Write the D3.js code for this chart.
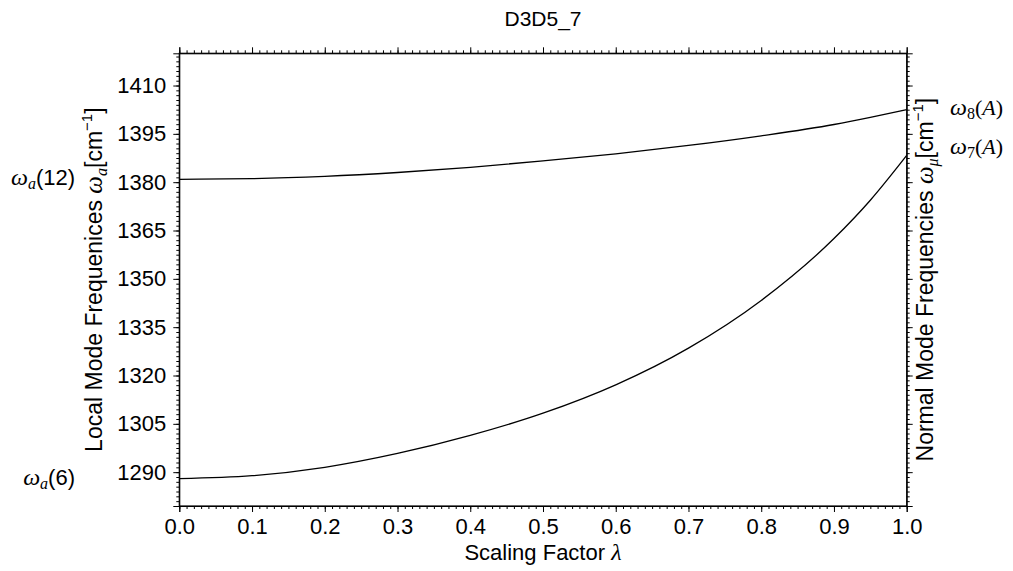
<!DOCTYPE html>
<html>
<head>
<meta charset="utf-8">
<script src="https://cdn.jsdelivr.net/npm/d3@7"></script>
<style>
  body { margin: 0; background: #fff; }
  svg { display: block; }
  text { font-family: "Liberation Sans", Arial, sans-serif; fill: #000; }
  .math { font-family: "Liberation Serif", "DejaVu Serif", serif; font-style: italic; }
  .axis path, .axis line { stroke: #000; }
</style>
</head>
<body>
<div class="container"></div>
<script>
// scaling factor lambda
const lambdas = [0.0, 0.1, 0.2, 0.3, 0.4, 0.5, 0.6, 0.7, 0.8, 0.9, 0.95, 1.0];
// omega_a(12) -> omega_8(A)
const upperMode = [1380.9, 1381.1, 1381.8, 1383.0, 1384.6, 1386.6, 1388.8, 1391.4, 1394.4, 1397.9, 1400.1, 1402.5];
// omega_a(6) -> omega_7(A)
const lowerMode = [1288.0, 1288.9, 1291.5, 1295.8, 1301.4, 1308.3, 1317.1, 1328.5, 1343.3, 1362.5, 1374.4, 1388.3];
const xTicks = [0.0, 0.1, 0.2, 0.3, 0.4, 0.5, 0.6, 0.7, 0.8, 0.9, 1.0];
const yTicks = [1290, 1305, 1320, 1335, 1350, 1365, 1380, 1395, 1410];

const W = 1013, H = 571;
const margin = { top: 53.3, right: 106.3, bottom: 65, left: 179.3 };
const w = W - margin.left - margin.right,
  h = H - margin.top - margin.bottom;

const svg = d3
  .select(".container")
  .append("svg")
  .attr("width", W)
  .attr("height", H);

const g = svg.append("g").attr("transform", `translate(${margin.left},${margin.top})`);

const xScale = d3.scaleLinear().domain([0, 1]).range([0, w]);
const yScale = d3.scaleLinear().domain([1279.5, 1420]).range([h, 0]);

const xMinor = d3.range(0, 1.0001, 0.01);
const yMinor = d3.range(1281, 1420, 1.5);

//Minor ticks on all four sides
const minor = [
  [d3.axisBottom(xScale).tickValues(xMinor), `translate(0,${h})`],
  [d3.axisTop(xScale).tickValues(xMinor), null],
  [d3.axisLeft(yScale).tickValues(yMinor), null],
  [d3.axisRight(yScale).tickValues(yMinor), `translate(${w},0)`]
];
minor.forEach(([ax, tr]) => {
  const a = g.append("g").attr("class", "axis").call(ax.tickSize(3).tickFormat(""));
  if (tr) a.attr("transform", tr);
  a.select(".domain").remove();
});

//Major ticks
g.append("g")
  .attr("class", "axis")
  .attr("transform", `translate(0,${h})`)
  .call(d3.axisBottom(xScale).tickValues(xTicks).tickFormat(d3.format(".1f")).tickSize(6).tickPadding(6))
  .call(s => s.selectAll("text").style("font-size", "22px"));
g.append("g")
  .attr("class", "axis")
  .call(d3.axisTop(xScale).tickValues(xTicks).tickFormat("").tickSize(6));
g.append("g")
  .attr("class", "axis")
  .call(d3.axisLeft(yScale).tickValues(yTicks).tickFormat(d3.format("d")).tickSize(6).tickPadding(7))
  .call(s => s.selectAll("text").style("font-size", "22px"));
g.append("g")
  .attr("class", "axis")
  .attr("transform", `translate(${w},0)`)
  .call(d3.axisRight(yScale).tickValues(yTicks).tickFormat("").tickSize(6));

//Frame
g.append("rect")
  .attr("width", w)
  .attr("height", h)
  .attr("fill", "none")
  .attr("stroke", "#000")
  .attr("stroke-width", 1.2);

//Curves
const line = d3
  .line()
  .x(d => xScale(d[0]))
  .y(d => yScale(d[1]))
  .curve(d3.curveMonotoneX);
[upperMode, lowerMode].forEach(vals => {
  g.append("path")
    .datum(lambdas.map((l, i) => [l, vals[i]]))
    .attr("d", line)
    .attr("fill", "none")
    .attr("stroke", "#000")
    .attr("stroke-width", 1.3);
});

//Title
svg.append("text")
  .attr("x", margin.left + w / 2)
  .attr("y", 26)
  .attr("text-anchor", "middle")
  .style("font-size", "21px")
  .text("D3D5_7");

//X label
const xl = svg.append("text")
  .attr("x", margin.left + w / 2)
  .attr("y", 560)
  .attr("text-anchor", "middle")
  .style("font-size", "22px");
xl.append("tspan").text("Scaling Factor ");
xl.append("tspan").attr("class", "math").style("font-size", "24px").text("λ");

//Y labels (left and right)
function yLabel(x, words, sub) {
  const t = svg.append("text")
    .attr("transform", `translate(${x},${margin.top + h / 2}) rotate(-90)`)
    .attr("text-anchor", "middle")
    .style("font-size", "23px");
  t.append("tspan").text(words + " ");
  t.append("tspan").attr("class", "math").style("font-size", "25px").text("ω");
  t.append("tspan").attr("class", "math").attr("dy", 5).style("font-size", "16px").text(sub);
  t.append("tspan").attr("dy", -5).text("[cm");
  t.append("tspan").attr("dy", -10).style("font-size", "15px").text("−1");
  t.append("tspan").attr("dy", 10).text("]");
}
yLabel(102, "Local Mode Frequenices", "a");
yLabel(933, "Normal Mode Frequencies", "μ");

//End labels
function leftLabel(val, num) {
  const t = svg.append("text")
    .attr("x", 75)
    .attr("y", margin.top + yScale(val) + 6)
    .attr("text-anchor", "end")
    .style("font-size", "22px");
  t.append("tspan").attr("class", "math").style("font-size", "24px").text("ω");
  t.append("tspan").attr("class", "math").attr("dy", 4).style("font-size", "16px").text("a");
  t.append("tspan").attr("dy", -4).text(`(${num})`);
}
leftLabel(upperMode[0], 12);
leftLabel(lowerMode[0], 6);

function rightLabel(val, num, dy) {
  const t = svg.append("text")
    .attr("x", 950)
    .attr("y", margin.top + yScale(val) + dy)
    .attr("class", "math")
    .style("font-size", "22px");
  t.append("tspan").style("font-size", "24px").text("ω");
  t.append("tspan").attr("dy", 4).style("font-style", "normal").style("font-size", "16px").text(num);
  t.append("tspan").attr("dy", -4).style("font-style", "normal").text("(");
  t.append("tspan").text("A");
  t.append("tspan").style("font-style", "normal").text(")");
}
rightLabel(upperMode[upperMode.length - 1], 8, 5);
rightLabel(lowerMode[lowerMode.length - 1], 7, -1);
</script>
</body>
</html>
